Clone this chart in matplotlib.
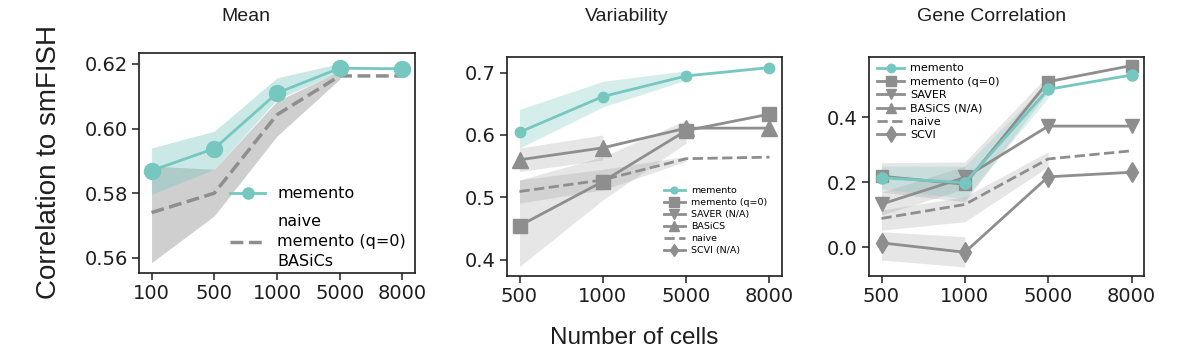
import numpy as np
import matplotlib
matplotlib.use("Agg")
import matplotlib.pyplot as plt
from matplotlib.ticker import FormatStrFormatter

nan = np.nan

# ---------------- data ----------------
mean_cells = ["100", "500", "1000", "5000", "8000"]
mean_memento = [0.5870, 0.5938, 0.6110, 0.6187, 0.6185]
mean_memento_lo = [0.5797, 0.5874, 0.6090, 0.6176, nan]
mean_memento_hi = [0.5940, 0.5992, 0.6157, 0.6202, nan]
mean_naive = [0.5740, 0.5800, 0.6043, 0.6163, 0.6163]
mean_naive_lo = [0.5585, 0.5730, 0.5977, 0.6153, nan]
mean_naive_hi = [0.5884, 0.5874, 0.6085, 0.6178, nan]

var_cells = ["500", "1000", "5000", "8000"]
var_memento = [0.6045, 0.6616, 0.6947, 0.7080]
var_memento_lo = [0.579, 0.645, 0.688, nan]
var_memento_hi = [0.641, 0.686, 0.703, nan]
var_q0 = [0.4545, 0.5254, 0.6071, 0.6334]
var_q0_lo = [0.389, 0.496, 0.587, nan]
var_q0_hi = [0.528, 0.565, 0.624, nan]
var_basics = [0.5602, 0.5794, 0.6110, 0.6110]
var_basics_lo = [0.5414, 0.5600, nan, nan]
var_basics_hi = [0.5790, 0.6000, nan, nan]
var_naive = [0.5094, 0.5280, 0.5620, 0.5645]
var_naive_lo = [0.491, 0.512, 0.558, nan]
var_naive_hi = [0.528, 0.545, 0.566, nan]

gc_cells = ["500", "1000", "5000", "8000"]
gc_memento = [0.214, 0.199, 0.486, 0.530]
gc_memento_lo = [0.180, 0.150, 0.460, nan]
gc_memento_hi = [0.250, 0.250, 0.510, nan]
gc_q0 = [0.219, 0.194, 0.5096, 0.559]
gc_q0_lo = [0.170, 0.140, 0.480, nan]
gc_q0_hi = [0.260, 0.263, 0.530, nan]
gc_saver = [0.133, 0.215, 0.373, 0.373]
gc_saver_lo = [0.100, 0.180, nan, nan]
gc_saver_hi = [0.170, 0.250, nan, nan]
gc_naive = [0.089, 0.132, 0.272, 0.297]
gc_naive_lo = [0.053, 0.079, 0.248, nan]
gc_naive_hi = [0.115, 0.156, 0.294, nan]
gc_scvi = [0.014, -0.015, 0.217, 0.231]
gc_scvi_lo = [-0.039, -0.060, nan, nan]
gc_scvi_hi = [0.048, 0.033, nan, nan]

# ---------------- style ----------------
TEAL = "#76c7bf"
GRAY = "#8e8e8e"
SANS = ["Liberation Sans", "DejaVu Sans"]

fig = plt.figure(figsize=(12, 3.61), dpi=100)
W, H = 1200, 361

def add_ax(l, t, r, b):
    return fig.add_axes([l / W, 1 - b / H, (r - l) / W, (b - t) / H])

ax1 = add_ax(139, 53, 415, 273)
ax2 = add_ax(507, 57, 782, 276)
ax3 = add_ax(869, 57, 1144, 276)

for ax in (ax1, ax2, ax3):
    for s in ax.spines.values():
        s.set_linewidth(1.2)
        s.set_color("#1e1e1e")
    ax.tick_params(labelsize=14, length=5, width=1.1, color="#1e1e1e",
                   labelcolor="#1e1e1e", pad=3)

# ---------------- panel 1: Mean ----------------
x1 = np.arange(len(mean_cells))
ax1.fill_between(x1, mean_naive_lo, mean_naive_hi, color="#a0a0a0", alpha=0.5, lw=0, zorder=1)
ax1.fill_between(x1, mean_memento_lo, mean_memento_hi, color=TEAL, alpha=0.38, lw=0, zorder=2)
l_naive, = ax1.plot(x1, mean_naive, ls="--", color=GRAY, lw=2.5, zorder=3)
l_mem, = ax1.plot(x1, mean_memento, "-o", color=TEAL, lw=2, ms=11.5, zorder=4)
ax1.set_xticks(x1)
ax1.set_xticklabels(mean_cells)
ax1.set_xlim(-0.2, 4.2)
ax1.set_ylim(0.5553, 0.6234)
ax1.set_yticks([0.56, 0.58, 0.60, 0.62])
ax1.yaxis.set_major_formatter(FormatStrFormatter("%.2f"))
leg1 = ax1.legend([l_mem, l_naive], ["memento", "naive\nmemento (q=0)\nBASiCs"],
                  fontsize=11.5, frameon=False, loc="lower right",
                  bbox_to_anchor=(0.99, -0.01), borderaxespad=0,
                  handlelength=2.2, handletextpad=0.75, markerscale=0.7,
                  labelspacing=0.8)
for t in leg1.get_texts():
    t.set_linespacing(1.4)

# ---------------- panel 2: Variability ----------------
x2 = np.arange(len(var_cells))
ax2.fill_between(x2, var_q0_lo, var_q0_hi, color=GRAY, alpha=0.22, lw=0, zorder=1)
ax2.fill_between(x2, var_naive_lo, var_naive_hi, color=GRAY, alpha=0.22, lw=0, zorder=1)
ax2.fill_between(x2, var_basics_lo, var_basics_hi, color=GRAY, alpha=0.22, lw=0, zorder=1)
ax2.fill_between(x2, var_memento_lo, var_memento_hi, color=TEAL, alpha=0.3, lw=0, zorder=2)
h_mem, = ax2.plot(x2, var_memento, "-o", color=TEAL, lw=2, ms=7.5, zorder=5)
h_q0, = ax2.plot(x2, var_q0, "-s", color=GRAY, lw=2, ms=10, zorder=4)
h_saver, = ax2.plot([], [], "-v", color=GRAY, lw=2, ms=10)
h_bas, = ax2.plot(x2, var_basics, "-^", color=GRAY, lw=2, ms=11, zorder=4)
h_naive, = ax2.plot(x2, var_naive, ls="--", color=GRAY, lw=2, zorder=3)
h_scvi, = ax2.plot([], [], "-d", color=GRAY, lw=2, ms=10)
ax2.set_xticks(x2)
ax2.set_xticklabels(var_cells)
ax2.set_xlim(-0.15, 3.15)
ax2.set_ylim(0.374, 0.725)
ax2.set_yticks([0.4, 0.5, 0.6, 0.7])
ax2.yaxis.set_major_formatter(FormatStrFormatter("%.1f"))
ax2.legend([h_mem, h_q0, h_saver, h_bas, h_naive, h_scvi],
           ["memento", "memento (q=0)", "SAVER (N/A)", "BASiCS", "naive", "SCVI (N/A)"],
           fontsize=6.8, frameon=False, loc="lower right",
           bbox_to_anchor=(0.9615, 0.079), borderaxespad=0,
           handlelength=2.25, handletextpad=0.7, markerscale=0.65,
           labelspacing=0.32)

# ---------------- panel 3: Gene Correlation ----------------
x3 = np.arange(len(gc_cells))
ax3.fill_between(x3, gc_scvi_lo, gc_scvi_hi, color=GRAY, alpha=0.22, lw=0, zorder=1)
ax3.fill_between(x3, gc_naive_lo, gc_naive_hi, color=GRAY, alpha=0.22, lw=0, zorder=1)
ax3.fill_between(x3, gc_saver_lo, gc_saver_hi, color=GRAY, alpha=0.22, lw=0, zorder=1)
ax3.fill_between(x3, gc_q0_lo, gc_q0_hi, color=GRAY, alpha=0.22, lw=0, zorder=1)
ax3.fill_between(x3, gc_memento_lo, gc_memento_hi, color=TEAL, alpha=0.25, lw=0, zorder=2)
g_q0, = ax3.plot(x3, gc_q0, "-s", color=GRAY, lw=2, ms=9, zorder=4)
g_saver, = ax3.plot(x3, gc_saver, "-v", color=GRAY, lw=2, ms=10, zorder=4)
g_bas, = ax3.plot([], [], "-^", color=GRAY, lw=2, ms=10)
g_naive, = ax3.plot(x3, gc_naive, ls="--", color=GRAY, lw=2, zorder=3)
g_scvi, = ax3.plot(x3, gc_scvi, "-d", color=GRAY, lw=2, ms=10.5, zorder=4)
g_mem, = ax3.plot(x3, gc_memento, "-o", color=TEAL, lw=2, ms=8, zorder=5)
ax3.set_xticks(x3)
ax3.set_xticklabels(gc_cells)
ax3.set_xlim(-0.15, 3.15)
ax3.set_ylim(-0.088, 0.5855)
ax3.set_yticks([0.0, 0.2, 0.4])
ax3.yaxis.set_major_formatter(FormatStrFormatter("%.1f"))
ax3.legend([g_mem, g_q0, g_saver, g_bas, g_naive, g_scvi],
           ["memento", "memento (q=0)", "SAVER", "BASiCS (N/A)", "naive", "SCVI"],
           fontsize=8, frameon=False, loc="upper left",
           bbox_to_anchor=(0.013, 0.991), borderaxespad=0,
           handlelength=2.45, handletextpad=0.55, markerscale=0.75,
           labelspacing=0.3)

# ---------------- titles and labels ----------------
fig.text(246 / W, 1 - 16.5 / H, "Mean", ha="center", va="center",
         fontsize=14, family=SANS, color="#1e1e1e")
fig.text(626.5 / W, 1 - 16.5 / H, "Variability", ha="center", va="center",
         fontsize=14, family=SANS, color="#1e1e1e")
fig.text(991.5 / W, 1 - 16.5 / H, "Gene Correlation", ha="center", va="center",
         fontsize=14, family=SANS, color="#1e1e1e")
fig.text(49 / W, 1 - 162 / H, "Correlation to smFISH", rotation=90,
         ha="center", va="center", fontsize=20, family=SANS, color="#1e1e1e")
fig.text(634 / W, 1 - 338 / H, "Number of cells", ha="center", va="center",
         fontsize=17.5, family=SANS, color="#1e1e1e")

fig.savefig("out.png", dpi=100)
